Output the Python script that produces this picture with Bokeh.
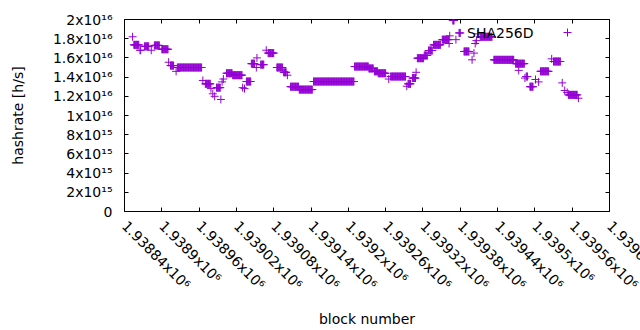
import math
from bokeh.plotting import figure
from bokeh.models import (Range1d, FixedTicker, LinearAxis, ColumnDataSource, Label,
                          Legend, LegendItem)
from bokeh.embed import file_html
from bokeh.resources import INLINE

# ---- data: runs of consecutive blocks sharing the same hashrate estimate ----
run_start = [1938853, 1938855, 1938865, 1938872, 1938883, 1938888, 1938900, 1938911, 1938914, 1938923,
             1938925, 1938966, 1938970, 1938979, 1938982, 1938985, 1938988, 1938995, 1938997, 1938999,
             1939004, 1939014, 1939030, 1939033, 1939036, 1939044, 1939052, 1939053, 1939059, 1939068,
             1939071, 1939085, 1939096, 1939102, 1939107, 1939121, 1939144, 1939210, 1939233, 1939242,
             1939248, 1939265, 1939268, 1939294, 1939296, 1939303, 1939309, 1939311, 1939322, 1939329,
             1939337, 1939351, 1939362, 1939363, 1939368, 1939373, 1939378, 1939386, 1939399, 1939402,
             1939404, 1939406, 1939408, 1939412, 1939434, 1939469, 1939474, 1939484, 1939486, 1939492,
             1939501, 1939506, 1939509, 1939527, 1939530, 1939544, 1939548, 1939552, 1939554, 1939570]
run_end = [1938853, 1938863, 1938866, 1938879, 1938883, 1938896, 1938910, 1938911, 1938919, 1938923,
           1938964, 1938966, 1938978, 1938979, 1938982, 1938985, 1938994, 1938995, 1938997, 1938999,
           1939013, 1939029, 1939030, 1939033, 1939043, 1939049, 1939052, 1939053, 1939064, 1939068,
           1939080, 1939094, 1939100, 1939102, 1939120, 1939142, 1939209, 1939232, 1939240, 1939247,
           1939260, 1939265, 1939292, 1939294, 1939300, 1939308, 1939309, 1939321, 1939327, 1939335,
           1939348, 1939361, 1939362, 1939363, 1939370, 1939373, 1939380, 1939394, 1939399, 1939402,
           1939404, 1939406, 1939408, 1939431, 1939466, 1939483, 1939474, 1939484, 1939488, 1939497,
           1939501, 1939506, 1939522, 1939527, 1939541, 1939544, 1939548, 1939552, 1939568, 1939570]
run_value = [1.82e16, 1.736e16, 1.68e16, 1.72e16, 1.68e16, 1.73e16, 1.69e16, 1.555e16, 1.52e16, 1.46e16,
             1.50e16, 1.365e16, 1.33e16, 1.28e16, 1.226e16, 1.20e16, 1.29e16, 1.167e16, 1.35e16, 1.38e16,
             1.44e16, 1.42e16, 1.29e16, 1.28e16, 1.354e16, 1.54e16, 1.50e16, 1.60e16, 1.53e16, 1.68e16,
             1.65e16, 1.50e16, 1.45e16, 1.42e16, 1.30e16, 1.27e16, 1.354e16, 1.51e16, 1.49e16, 1.46e16,
             1.44e16, 1.38e16, 1.406e16, 1.305e16, 1.33e16, 1.39e16, 1.45e16, 1.597e16, 1.625e16, 1.677e16,
             1.736e16, 1.79e16, 1.75e16, 1.83e16, 1.99e16, 1.79e16, 1.86e16, 1.667e16, 1.58e16, 1.65e16,
             1.75e16, 1.78e16, 1.85e16, 1.82e16, 1.58e16, 1.54e16, 1.47e16, 1.39e16, 1.406e16, 1.30e16,
             1.375e16, 1.35e16, 1.46e16, 1.59e16, 1.5625e16, 1.34e16, 1.26e16, 1.24e16, 1.215e16, 1.18e16]
series_name = "SHA256D"

x_ticks = [1938840, 1938900, 1938960, 1939020, 1939080, 1939140, 1939200,
           1939260, 1939320, 1939380, 1939440, 1939500, 1939560, 1939620]
x_tick_labels = ["1.93884x10⁶", "1.9389x10⁶", "1.93896x10⁶", "1.93902x10⁶", "1.93908x10⁶",
                 "1.93914x10⁶", "1.9392x10⁶", "1.93926x10⁶", "1.93932x10⁶", "1.93938x10⁶",
                 "1.93944x10⁶", "1.9395x10⁶", "1.93956x10⁶", "1.93962x10⁶"]

y_ticks = [0, 2e15, 4e15, 6e15, 8e15, 1e16, 1.2e16, 1.4e16, 1.6e16, 1.8e16, 2e16]
y_tick_labels = ["0", "2x10¹⁵", "4x10¹⁵", "6x10¹⁵", "8x10¹⁵", "1x10¹⁶", "1.2x10¹⁶", "1.4x10¹⁶",
                 "1.6x10¹⁶", "1.8x10¹⁶", "2x10¹⁶"]

x_title = "block number"
y_title = "hashrate [h/s]"

# ---- expand runs into one point per block ----
blocks, rates = [], []
for s, e, v in zip(run_start, run_end, run_value):
    for b in range(s, e + 1):
        blocks.append(b)
        rates.append(v)

FONT = "DejaVu Sans"
FS = "14px"
COLOR = "#9400d3"

W, H = 640, 330
p = figure(width=W, height=H, output_backend="svg", toolbar_location=None,
           x_range=Range1d(x_ticks[0], x_ticks[-1]), y_range=Range1d(y_ticks[0], y_ticks[-1]),
           min_border_left=124, min_border_right=31, min_border_top=19, min_border_bottom=119)
p.grid.visible = False
p.outline_line_color = "black"
p.outline_line_width = 1
p.background_fill_color = "white"
p.border_fill_color = "white"

p.add_layout(LinearAxis(), "above")
p.add_layout(LinearAxis(), "right")
for ax in p.yaxis:
    ax.ticker = FixedTicker(ticks=y_ticks)
for ax in p.xaxis + p.yaxis:
    ax.major_tick_in = 4
    ax.major_tick_out = 0
    ax.major_tick_line_color = "black"
    ax.minor_tick_line_color = None
    ax.axis_line_color = None
    ax.major_label_text_font = FONT
    ax.major_label_text_font_size = FS
    ax.major_label_text_color = "black"
    ax.axis_label_text_font = FONT
    ax.axis_label_text_font_size = FS
    ax.axis_label_text_font_style = "normal"
    ax.axis_label_text_color = "black"

# mirrored axes: ticks only
p.above[0].ticker = FixedTicker(ticks=x_ticks)
p.above[0].major_label_overrides = {t: "" for t in x_ticks}
p.right[0].major_label_overrides = {t: "" for t in y_ticks}

# bottom axis: the last real label sits a hair before the range end and an empty
# label closes the row, so Bokeh does not pull the last label back into the canvas
xb = p.below[0]
last_pos = x_ticks[-1] - 0.001
xb.ticker = FixedTicker(ticks=x_ticks[:-1] + [last_pos, x_ticks[-1]])
overrides = dict(zip(x_ticks[:-1], x_tick_labels[:-1]))
overrides[last_pos] = x_tick_labels[-1]
overrides[x_ticks[-1]] = ""
xb.major_label_overrides = overrides
xb.major_label_orientation = -math.pi / 4
xb.major_label_standoff = 12
xb.axis_label = x_title
xb.axis_label_standoff = 10

yl = p.left[0]
yl.major_label_overrides = dict(zip(y_ticks, y_tick_labels))
yl.major_label_standoff = 12
yl.axis_label = y_title
yl.axis_label_standoff = 24

src = ColumnDataSource(dict(block=blocks, rate=rates))
r = p.scatter("block", "rate", source=src, marker="cross", size=8,
              line_color=COLOR, line_width=1)

# ---- key: text on the left, sample on the right (gnuplot style) ----
legend = Legend(items=[LegendItem(label=" ", renderers=[r])], location=(433, 169),
                glyph_width=20, glyph_height=20, label_standoff=0,
                label_text_font=FONT, label_text_font_size=FS,
                label_height=20, label_width=0, padding=0, margin=0, spacing=0,
                border_line_color=None, background_fill_alpha=0)
p.add_layout(legend)
p.add_layout(Label(x=x_ticks[-1], y=y_ticks[-1], x_offset=-76, y_offset=-13, text=series_name,
                   text_align="right", text_baseline="middle", text_font=FONT,
                   text_font_size=FS, text_color="black"))

open("out.html", "w").write(file_html(p, INLINE))
